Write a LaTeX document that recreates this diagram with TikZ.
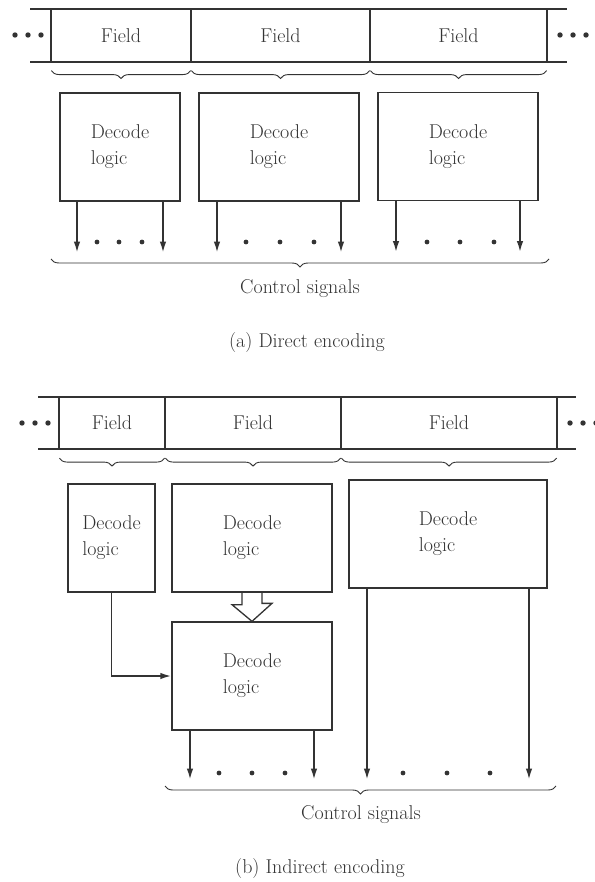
\documentclass[tikz,border=0pt]{standalone}
\usepackage{xcolor}
\usepackage{tikz}
\usetikzlibrary{arrows.meta,positioning,calc,decorations.pathreplacing}
\definecolor{ink}{gray}{0.2}

\begin{document}
\begin{tikzpicture}[x=1pt,y=-1pt,>={Latex[length=11pt,width=6.5pt]},
   every node/.style={font=\fontsize{20}{26}\selectfont,text=ink},
   field/.style={draw=ink,line width=1.2pt,minimum height=53pt,inner sep=0pt},
   block/.style={draw=ink,line width=1.3pt,align=left,minimum height=108pt,inner sep=0pt},
   reg/.style={draw=ink,line width=1.4pt},
   brace/.style={draw=ink,line width=0.9pt,decorate,decoration={brace,mirror,amplitude=8pt}},
   sig/.style={draw=ink,->,line width=1.8pt}]
 \useasboundingbox (0,0) rectangle (594,882);
 % (a) register with three fields
 \draw[reg] (30,9) -- (567,9);
 \draw[reg] (30,62) -- (567,62);
 \node[field,minimum width=140pt] (fa1) at (121,35.5)   {Field};
 \node[field,minimum width=179pt] (fa2) at (280.5,35.5) {Field};
 \node[field,minimum width=177pt] (fa3) at (458.5,35.5) {Field};
 \foreach \x in {15,28,41,560,573,586} \fill[ink] (\x,35) circle (2.7pt);
 \foreach \f in {fa1,fa2,fa3}
   \draw[brace] ([xshift=1pt,yshift=-8pt]\f.south west) -- ([xshift=-1pt,yshift=-8pt]\f.south east);
 % (a) one decoder per field
 \node[block,minimum width=120pt] (da1) at (120,147)   {Decode\\logic};
 \node[block,minimum width=160pt] (da2) at (279,147)   {Decode\\logic};
 \node[block,minimum width=160pt] (da3) at (458,146.5) {Decode\\logic};
 \foreach \n/\d in {da1/43,da2/62,da3/62} {
   \draw[sig] ([xshift=-\d pt]\n.south) -- ++(0,51);
   \draw[sig] ([xshift=\d pt]\n.south) -- ++(0,51);
 }
 \foreach \x in {97,119,142,246,280,314,427,460,494} \fill[ink] (\x,242) circle (2.4pt);
 \draw[brace] (51,259) -- (549,259);
 \node (csa)  at (300,289) {Control signals};
 \node (capa) at (307,343) {(a) Direct encoding};

 % (b) register with three fields
 \draw[reg] (38,397) -- (576,397);
 \draw[reg] (38,449) -- (576,449);
 \node[field,minimum width=106pt] (fb1) at (112,423) {Field};
 \node[field,minimum width=176pt] (fb2) at (253,423) {Field};
 \node[field,minimum width=216pt] (fb3) at (449,423) {Field};
 \foreach \x in {22,35,48,570,583,596} \fill[ink] (\x,423) circle (2.7pt);
 \foreach \f in {fb1,fb2,fb3}
   \draw[brace] ([xshift=1pt,yshift=-8pt]\f.south west) -- ([xshift=-1pt,yshift=-8pt]\f.south east);
 % (b) decoders, the second one feeding a further decoder
 \node[block,minimum width=87pt]  (db1) at (111.5,538) {Decode\\logic};
 \node[block,minimum width=160pt] (db2) at (252,538)   {Decode\\logic};
 \node[block,minimum width=198pt] (db3) at (448,534)   {Decode\\logic};
 \node[block,minimum width=160pt] (db4) at (252,676)   {Decode\\logic};
 % hollow arrow db2 -> db4
 \draw[ink,line width=1.3pt,line join=miter] ([xshift=-10pt]db2.south) -- ++(0,12) -- ++(-10,0)
   -- (db4.north) -- ++(20,-18) -- ++(-10,0) -- ++(0,-12);
 \draw[sig] (db1.south) |- (db4.west);
 \foreach \n/\d/\l in {db4/62/49,db3/81/191} {
   \draw[sig] ([xshift=-\d pt]\n.south) -- ++(0,\l);
   \draw[sig] ([xshift=\d pt]\n.south) -- ++(0,\l);
 }
 \foreach \x in {219,252,285,403,447,490} \fill[ink] (\x,773) circle (2.4pt);
 \draw[brace] (165,786) -- (556,786);
 \node (csb)  at (361,815) {Control signals};
 \node (capb) at (320,868) {(b) Indirect encoding};
\end{tikzpicture}
\end{document}
